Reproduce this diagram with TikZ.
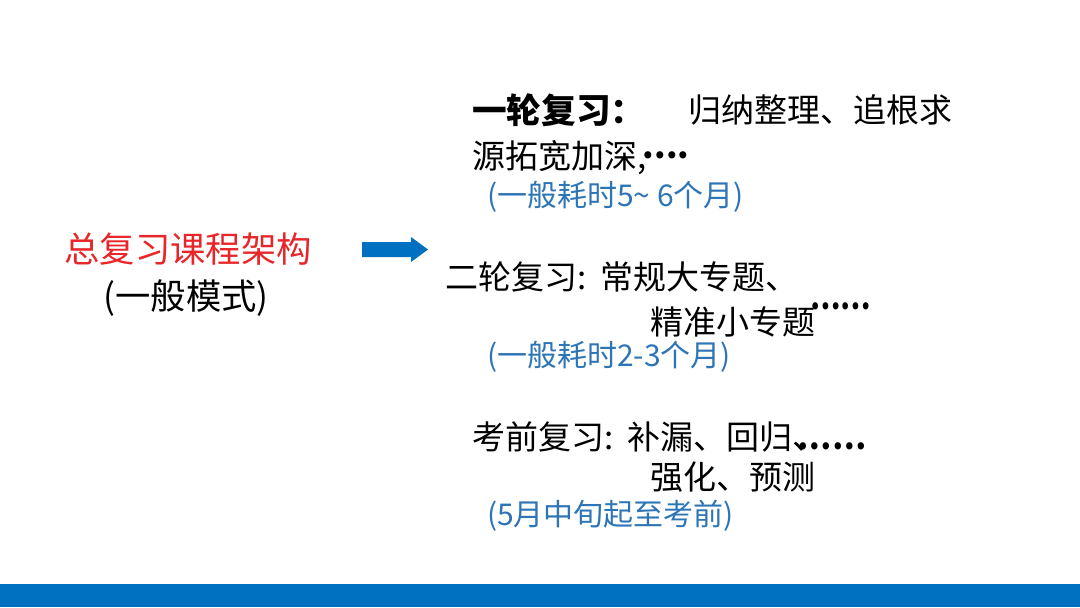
\documentclass[tikz,border=0pt]{standalone}
\usepackage{graphicx}
\usepackage{fontspec}
\setmainfont{Noto Sans CJK SC}
\definecolor{barblue}{HTML}{0070C0}
\definecolor{txtblue}{HTML}{2E75B6}
\definecolor{txtred}{HTML}{E8262A}
\begin{document}
\begin{tikzpicture}[x=0.75pt,y=-0.75pt,
  every node/.style={inner sep=0pt,outer sep=0pt},
  main/.style={anchor=west,font=\fontsize{24.75}{30}\selectfont,text=black},
  note/.style={anchor=west,font=\fontsize{22.5}{27}\selectfont,text=txtblue},
  lefttxt/.style={anchor=center,font=\fontsize{26.5}{32}\selectfont}]
\useasboundingbox[fill=white] (0,0) rectangle (1080,607);
% bottom bar
\fill[barblue] (0,584) rectangle (1080,607);
% left title
\node[lefttxt,text=txtred] (title) at (188,249) {总复习课程架构};
\node[lefttxt,text=black] (mode) at (186,298) {(一般模式)};
% block arrow
\fill[barblue] (362,242) -- (411,242) -- (411,237) -- (428,249.5) -- (411,262) -- (411,257) -- (362,257) -- cycle;
% round one
\node[main,font=\fontsize{26}{30}\selectfont\bfseries] (r1a) at (472,110) {一轮复习：};
\node[main] (r1b) at (688,110) {归纳整理、追根求};
\node[main] (r1c) at (472,158) {源拓宽加深,\kern-0.1em\raisebox{0.3em}{\textbf{....}}};
\node[note] (r1n) at (487,197) {(一般耗时5\textasciitilde{} 6个月)};
% round two
\node[main] (r2a) at (445,277) {二轮复习:\ \ 常规大专题、};
\node[main] (r2b) at (650,320) {精准小专题\kern-0.15em\raisebox{0.75em}{\scalebox{0.82}[1]{\textbf{……}}}};
\node[note] (r2n) at (487,357) {(一般耗时2-3个月)};
% pre-exam
\node[main] (r3a) at (472,437) {考前复习:\ \ 补漏、回归\rlap{、}\kern0.15em\scalebox{0.92}[1]{\textbf{……}}};
\node[main] (r3b) at (650,477) {强化、预测};
\node[note] (r3n) at (487,516) {(5月中旬起至考前)};
\end{tikzpicture}
\end{document}
